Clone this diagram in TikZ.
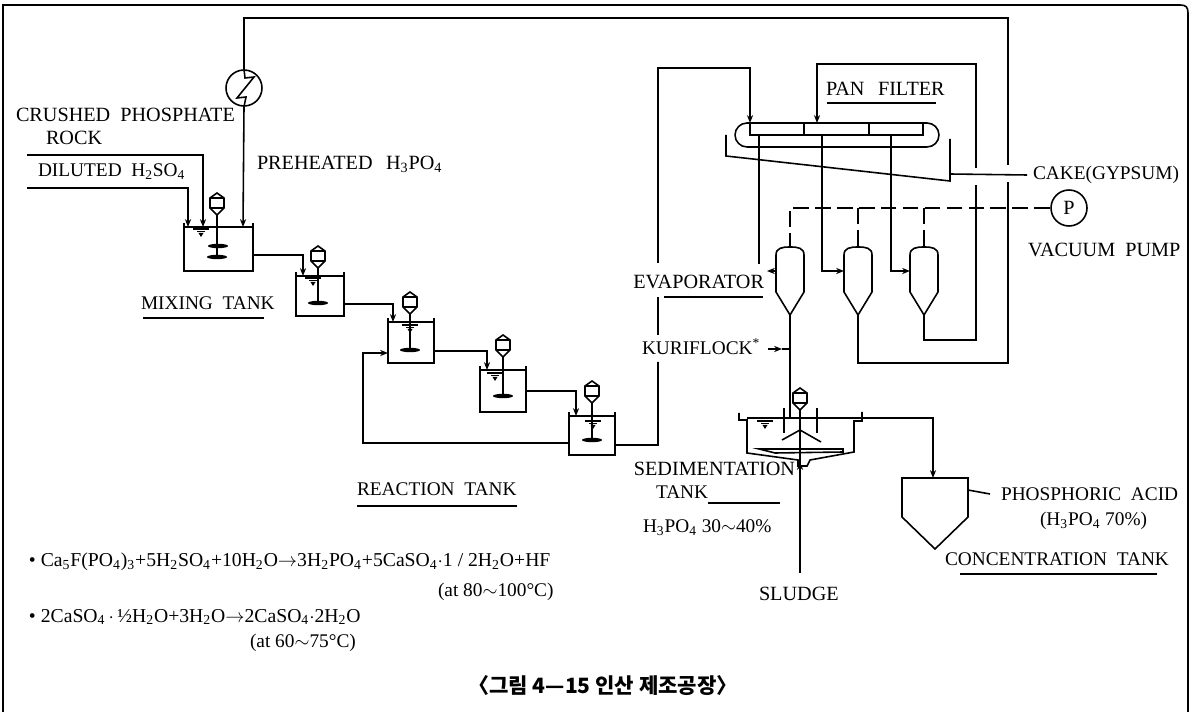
\documentclass[tikz,border=0pt]{standalone}
\usepackage{fontspec}
\usepackage{tikz}
\usetikzlibrary{arrows.meta}
\setmainfont{Liberation Serif}
\newfontfamily\cjk{Noto Sans CJK KR}
\newcommand{\ssb}[1]{\textsubscript{#1}}
\tikzset{
  pipe/.style={line width=.9pt,>={Stealth[length=4.5pt,width=3.5pt]}},
  vac/.style={pipe,dash pattern=on 9pt off 3.5pt},
  fine/.style={line width=.6pt},
  tank/.style={draw,line width=.9pt,inner sep=0,outer sep=0},
  cell/.style={draw,line width=.9pt,inner sep=0,outer sep=0,minimum height=.24cm},
  lbl/.style={inner sep=0,outer sep=0,font=\fontsize{11.5}{13}\selectfont},
  lbln/.style={inner sep=0,outer sep=0,font=\fontsize{11}{13}\selectfont},
  eqn/.style={inner sep=0,outer sep=0,font=\fontsize{11.2}{13}\selectfont},
  pics/motor/.style={code={
    \draw[pipe] (0,0) -- (7,5) -- (7,15) -- (0,22) -- (-7,15) -- (-7,5) -- cycle;
    \draw[fine] (-7,5) -- (7,5) (-7,15) -- (7,15);
    \coordinate (-tip) at (0,22);}},
  pics/blade/.style={code={\fill (0,0) ellipse (10 and 2.2);}},
  pics/level/.style={code={
    \draw[fine] (-8,0) -- (8,0) (-4,2.5) -- (4,2.5);
    \fill (-2.5,4) -- (2.5,4) -- (0,8) -- cycle;}},
  pics/evaporator/.style={code={
    \draw[pipe] (-14,45) -- (-14,8) .. controls (-14,1) and (-8,0) .. (0,0)
      .. controls (8,0) and (14,1) .. (14,8) -- (14,45) -- (0,68) -- cycle;
    \coordinate (-top) at (0,0);
    \coordinate (-west) at (-14,24);
    \coordinate (-tip) at (0,68);}},
}
\begin{document}
\begin{tikzpicture}[x=.02cm,y=-.02cm]
  \useasboundingbox (0,0) rectangle (1196,712);
  % Frame, open at the bottom
  \draw[pipe] (3,712) -- (3,5) -- (1180,5) .. controls (1186,5) and (1188,7) .. (1188,13) -- (1188,712);

  % Mixing and reaction tanks
  \foreach \name/\x/\y/\w/\h in {tank1/218.5/249/69/44,tank2/320/296/48/40,tank3/411/342.5/46/41,tank4/503/391/46/42,tank5/592/435.5/46/39} {
    \node[tank,minimum width=\w*.02cm,minimum height=\h*.02cm] (\name) at (\x,\y) {};
    \draw[pipe] (\name.north west) -- ++(0,-4) (\name.north east) -- ++(0,-4);
  }
  % Agitators
  \foreach \x/\y/\len in {217/193/64,318/246/57,410/292/58,503/335/61,592/381/59} {
    \pic (m) at (\x,\y) {motor};
    \draw[pipe] (m-tip) -- ++(0,\len-22);
    \pic at (\x,\y+\len) {blade};
  }
  \pic at (218,246) {blade};
  \foreach \x/\y in {201/229,313/278,410/325,495/373,593/421} {
    \pic at (\x,\y) {level};
  }

  % Tank to tank
  \draw[pipe,->] ([yshift=-.12cm]tank1.east) -| ([xshift=-.34cm]tank2.north);
  \draw[pipe,->] ([yshift=-.16cm]tank2.east) -| ([xshift=-.36cm]tank3.north);
  \draw[pipe,->] ([yshift=-.17cm]tank3.east) -| ([xshift=-.32cm]tank4.north);
  \draw[pipe,->] (tank4.east) -| ([xshift=-.32cm]tank5.north);
  \coordinate (recycle) at (363,353);
  \draw[pipe,->] ([yshift=-.15cm]tank5.west) -| (recycle) -- ([yshift=-.21cm]tank3.west);

  % Feeds
  \coordinate (rockin) at (27,155);
  \coordinate (acidin) at (27,188);
  \draw[pipe,->] (rockin) -| ([xshift=-.31cm]tank1.north);
  \draw[pipe,->] (acidin) -| ([xshift=-.61cm]tank1.north);

  % Heater
  \node[draw,circle,line width=.9pt,minimum size=.72cm,inner sep=0] (heater) at (244,88) {};
  \draw[pipe] (heater.north) -- (245,78) -- (254,77) -- (237,98) -- (246,97) -- (heater.south);
  \draw[pipe,->] (heater.south) -- ([xshift=.49cm]tank1.north);

  % Pan filter
  \node[draw,line width=.9pt,rounded corners=.24cm,minimum width=4.08cm,minimum height=.48cm,inner sep=0] (pan) at (837,135) {};
  \node[cell,minimum width=1.08cm] (cell1) at (777,129) {};
  \node[cell,minimum width=1.3cm] (cell2) at (836.5,129) {};
  \node[cell,minimum width=1.08cm] (cell3) at (896,129) {};
  \draw[pipe] (726,135) -- (726,156) -- (950,181) -- (950,139);

  % Evaporators
  \pic (ev1) at (790,247) {evaporator};
  \pic (ev2) at (858,247) {evaporator};
  \pic (ev3) at (924,247) {evaporator};
  \draw[pipe] ([xshift=.18cm]cell1.south west) -- ++(0,129);
  \coordinate (ev1stub) at (767,271);
  \draw[pipe,->] (ev1-west) -- (ev1stub);
  \draw[pipe,->] ([xshift=-.29cm]cell2.south) |- (ev2-west);
  \draw[pipe,->] ([xshift=-.1cm]cell3.south) |- (ev3-west);

  % Vacuum line
  \node[draw,circle,line width=.9pt,minimum size=.72cm,inner sep=0,font=\fontsize{11.5}{13}\selectfont] (pump) at (1069,208) {P};
  \draw[vac] (pump.west) -| (ev1-top);
  \draw[vac] (ev2-top |- pump.west) -- (ev2-top);
  \draw[vac] (ev3-top |- pump.west) -- (ev3-top);

  % Feed from last tank to the filter, broken at the labels
  \coordinate (upa) at (658,445);
  \coordinate (upb) at (658,362);
  \coordinate (upc) at (658,335);
  \coordinate (upd) at (658,297);
  \coordinate (upe) at (658,263);
  \coordinate (upf) at (658,68);
  \draw[pipe] ([yshift=-.19cm]tank5.east) -- (upa) -- (upb);
  \draw[pipe] (upc) -- (upd);
  \draw[pipe,->] (upe) -- (upf) -| (cell1.north west);

  % Wash from third evaporator
  \coordinate (washa) at (976,340);
  \coordinate (washb) at (976,185);
  \coordinate (washc) at (976,168);
  \coordinate (washd) at (976,64);
  \draw[pipe] (ev3-tip) |- (washa) -- (washb);
  \draw[pipe,->] (washc) -- (washd) -| ([xshift=-.39cm]cell2.north);

  % Return from second evaporator to the heater
  \coordinate (retb) at (1008,363);
  \coordinate (retc) at (1008,182);
  \coordinate (retd) at (1008,165);
  \coordinate (rete) at (1008,18);
  \draw[pipe] (ev2-tip) |- (retb) -- (retc);
  \draw[pipe] (retd) -- (rete) -| (heater.north);

  % Sedimentation tank
  \pic (m6) at (800,388) {motor};
  \draw[pipe] (739,413) -- (739,420) -- (747,420) -- (747,453) -- (798,460) -- (798,466)
    -- (807,466) -- (810,460) -- (854,452) -- (854,421) -- (862,421) -- (862,412);
  \draw[pipe] (747,418) -- (862,418);
  \draw[pipe] (784,408) -- (784,433) (817,408) -- (817,433);
  \draw[pipe] (782,440) -- (800,430) -- (821,442);
  \draw[pipe] (759,449) -- (843,449) -- (843,452) -- (775,453) -- cycle;
  \pic at (765,421) {level};

  % Concentration tank
  \draw[pipe] (902,478) -- (968,478) -- (968,517) -- (935,549) -- (902,517) -- cycle;
  \coordinate (conctop) at (933,478);
  \coordinate (sedout) at (862,418);
  \coordinate (concout) at (968,490);
  \draw[pipe,->] (sedout) -| (conctop);

  % Labels
  \node[lbl,right] (rock) at (16,115) {CRUSHED\ \ PHOSPHATE};
  \node[lbl,right] (rock2) at (46,138) {ROCK};
  \node[lbln,right] (acid) at (38,172) {DILUTED\ \ H\ssb{2}SO\ssb{4}};
  \node[lbl,right] (preheat) at (257,164) {PREHEATED\ \ \,H\ssb{3}PO\ssb{4}};
  \node[lbln,right] (mixing) at (141,303) {MIXING\ \ TANK};
  \node[lbln,right] (reaction) at (357,489) {REACTION\ \ TANK};
  \node[lbl,right] (panlbl) at (826,89) {PAN\ \ \,FILTER};
  \node[lbln,right] (cake) at (1033,175) {CAKE(GYPSUM)};
  \node[lbl,right] (vacuum) at (1028,250) {VACUUM\ \ PUMP};
  \node[lbl,left] (evlbl) at (764,282) {EVAPORATOR};
  \node[lbln,right] (kuri) at (642,347) {KURIFLOCK\textsuperscript{*}};
  \node[lbl,left] (sedlbl) at (795,469) {SEDIMENTATION};
  \node[lbln,right] (sedlbl2) at (656,492) {TANK};
  \node[lbln,right] (sedacid) at (643,528) {H\ssb{3}PO\ssb{4}\ 30$\sim$40\%};
  \node[lbl,right] (sludge) at (759,594) {SLUDGE};
  \node[lbln,right] (phos) at (1001,494) {PHOSPHORIC\ \ ACID};
  \node[lbln,right] (phos2) at (1040,521) {(H\ssb{3}PO\ssb{4}\ 70\%)};
  \node[lbln,right] (conc) at (945,559) {CONCENTRATION\ \ TANK};
  \draw[pipe] (concout) -- ([xshift=-.22cm]phos.west);
  \coordinate (cakeout) at (950,174);
  \draw[pipe] (cakeout) -- ([xshift=-.12cm]cake.west);
  \coordinate (kuriin) at (768,349);
  \draw[pipe,->] (kuriin) -- (782,349);
  \draw[pipe] (782,349) -- (ev1-tip |- kuriin);
  \draw[pipe] (ev1-tip) -- (790,418);
  \draw[pipe] (m6-tip) -- (800,573);
  \draw[pipe,->] (800,478) -- (800,462);

  % Underlines
  \draw[pipe] (143,318) -- (264,318);
  \draw[pipe] (357,506) -- (517,506);
  \draw[pipe] (827,103) -- (936,103);
  \draw[pipe] (664,297) -- (763,297);
  \draw[pipe] (708,503) -- (780,503);
  \draw[pipe] (960,574) -- (1157,574);

  % Reactions
  \node[eqn,right] (bulla) at (29,562) {\textbullet\ Ca\ssb{5}F(PO\ssb{4})\ssb{3}+5H\ssb{2}SO\ssb{4}+10H\ssb{2}O$\rightarrow$3H\ssb{2}PO\ssb{4}+5CaSO\ssb{4}$\cdot$1 / 2H\ssb{2}O+HF};
  \node[lbln,right] (tempa) at (438,592) {(at 80$\sim$100°C)};
  \node[eqn,right] (bullb) at (29,617) {\textbullet\ 2CaSO\ssb{4}\,$\cdot$\,½H\ssb{2}O+3H\ssb{2}O$\rightarrow$2CaSO\ssb{4}$\cdot$2H\ssb{2}O};
  \node[lbln,right] (tempb) at (250,643) {(at 60$\sim$75°C)};
  \node[inner sep=0,font=\fontsize{12}{14}\selectfont\cjk\bfseries] (caption) at (603,685) {〈그림 4—15 인산 제조공장〉};
\end{tikzpicture}
\end{document}
